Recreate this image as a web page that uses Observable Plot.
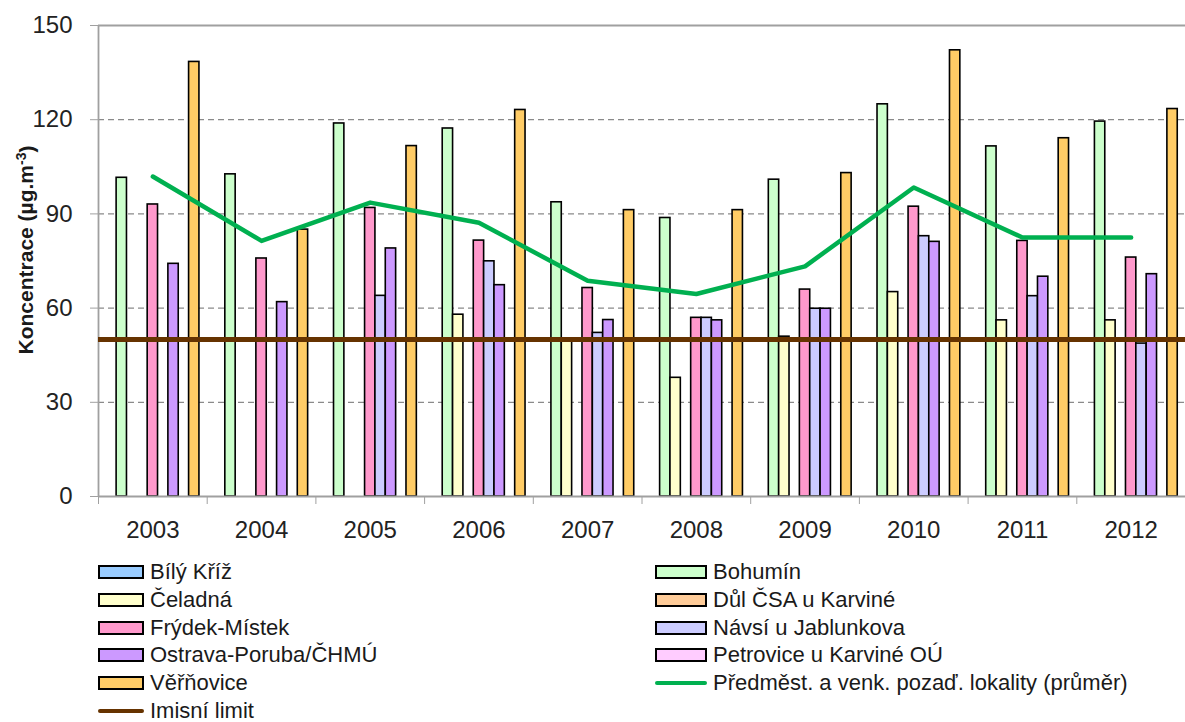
<!DOCTYPE html>
<html>
<head>
<meta charset="utf-8">
<script src="https://cdn.jsdelivr.net/npm/d3@7"></script>
<script src="https://cdn.jsdelivr.net/npm/@observablehq/plot@0.6"></script>
<style>
  body { margin: 0; background: #fff; font-family: "Liberation Sans", Arial, sans-serif; }
  #wrap { position: relative; width: 1185px; height: 722px; overflow: hidden; }
  #legend { position: absolute; left: 0; top: 0; width: 1185px; height: 722px; pointer-events: none; }
  .item { position: absolute; display: flex; align-items: center; height: 24px; line-height: 24px; font-size: 22px; color: #1a1a1a; white-space: nowrap; }
  .sw { height: 14px; border: 2px solid #000; box-sizing: border-box; margin-right: 6px; }
  .ln { height: 4px; margin-right: 6px; border-radius: 2px; }
</style>
</head>
<body>
<div id="wrap"><div id="chart"></div><div id="legend"></div></div>
<script>
// ---- data ----
const years = [2003, 2004, 2005, 2006, 2007, 2008, 2009, 2010, 2011, 2012];
const seriesNames = ["Bílý Kříž", "Bohumín", "Čeladná", "Důl ČSA u Karviné", "Frýdek-Místek",
  "Návsí u Jablunkova", "Ostrava-Poruba/ČHMÚ", "Petrovice u Karviné OÚ", "Věřňovice"];
const bilyKriz   = [null, null, null, null, null, null, null, null, null, null];
const bohumin    = [101.5, 102.6, 118.8, 117.2, 93.7, 88.7, 100.9, 124.9, 111.5, 119.4];
const celadna    = [null, null, null, 57.9, 49.6, 37.8, 50.9, 65.1, 56.1, 56.1];
const dulCSA     = [null, null, null, null, null, null, null, null, null, null];
const frydek     = [93.0, 75.8, 91.9, 81.5, 66.4, 56.9, 65.9, 92.3, 81.4, 76.1];
const navsi      = [null, null, 63.9, 74.9, 52.1, 56.9, 59.8, 82.9, 63.8, 48.7];
const ostrava    = [74.1, 61.9, 79.0, 67.3, 56.2, 56.1, 59.8, 81.1, 70.0, 70.8];
const petrovice  = [null, null, null, null, null, null, null, null, null, null];
const verinovice = [138.4, 85.0, 111.6, 123.1, 91.2, 91.2, 103.0, 142.1, 114.1, 123.4];
const prumer     = [101.9, 81.4, 93.6, 87.2, 68.7, 64.5, 73.3, 98.4, 82.5, 82.5];
const limit = 50;
const lineName = "Předměst. a venk. pozaď. lokality (průměr)";
const limitName = "Imisní limit";
const yTicks = [0, 30, 60, 90, 120, 150];

// ---- styles ----
const seriesColors = ["#99ccff", "#ccffcc", "#ffffcc", "#ffcc99", "#ff99cc", "#ccccff", "#cc99ff", "#ffccff", "#ffcc66"];
const lineColor = "#00b050";
const limitColor = "#663300";
const font = '"Liberation Sans", Arial, sans-serif';

const allSeries = [bilyKriz, bohumin, celadna, dulCSA, frydek, navsi, ostrava, petrovice, verinovice];
const bars = [];
allSeries.forEach((vals, si) => vals.forEach((v, yi) => {
  if (v != null) bars.push({year: years[yi], series: seriesNames[si], si, value: v});
}));

// Excel-like clustered layout: gap width 150% of a bar
const nS = seriesNames.length, gap = 1.5, slot = 1 / (nS + gap);
const x1 = d => d.year - 0.5 + (gap / 2 + d.si) * slot;
const x2 = d => d.year - 0.5 + (gap / 2 + d.si + 1) * slot;
const bounds = years.map(y => y - 0.5).concat([years[years.length - 1] + 0.5]);

const plot = Plot.plot({
  width: 1185, height: 545,
  marginLeft: 98, marginRight: 0, marginTop: 25, marginBottom: 49,
  x: {domain: [years[0] - 0.5, years[years.length - 1] + 0.5], axis: null},
  y: {domain: [0, 150], axis: null},
  color: {domain: seriesNames, range: seriesColors},
  style: {fontFamily: font, fontSize: "24px", color: "#222", background: "#fff"},
  marks: [
    Plot.ruleY([30, 60, 90, 120], {stroke: "#8a8a8a", strokeWidth: 1.3, strokeDasharray: "6,4"}),
    Plot.ruleY([150], {stroke: "#a0a0a0", strokeWidth: 1.8}),
    Plot.rectY(bars, {x1, x2, y: "value", fill: "series", stroke: "#000", strokeWidth: 1.6}),
    Plot.ruleY([0], {stroke: "#a0a0a0", strokeWidth: 1.8}),
    Plot.ruleX([years[0] - 0.5], {stroke: "#a0a0a0", strokeWidth: 1.8}),
    Plot.axisY(yTicks, {tickSize: 8, tickPadding: 18, label: null, stroke: "#a0a0a0", fill: "#222", fontSize: 24}),
    Plot.axisX(years, {tickSize: 0, tickPadding: 24, label: null, tickFormat: d => String(d), fill: "#222", fontSize: 24}),
    Plot.axisX(bounds, {tickSize: 8, label: null, tickFormat: () => "", stroke: "#a0a0a0"}),
    Plot.ruleY([limit], {stroke: limitColor, strokeWidth: 5}),
    Plot.line(years, {x: d => d, y: (d, i) => prumer[i], stroke: lineColor, strokeWidth: 4.5, strokeLinejoin: "round"})
  ]
});
document.getElementById("chart").appendChild(plot);

// y-axis title with superscript
const svg = d3.select(plot);
const t = svg.append("text")
  .attr("transform", "translate(26,250) rotate(-90)")
  .attr("text-anchor", "middle")
  .attr("dy", "0.35em")
  .attr("font-family", font)
  .attr("font-size", 21)
  .attr("font-weight", "bold")
  .attr("fill", "#1a1a1a");
t.append("tspan").text("Koncentrace (µg.m");
t.append("tspan").attr("font-size", 14).attr("dy", "-0.55em").text("-3");
t.append("tspan").attr("dy", "0.4em").text(")");

// legend (HTML)
const legend = d3.select("#legend");
const items = seriesNames.map((n, i) => ({name: n, type: "box", color: seriesColors[i]}))
  .concat([{name: lineName, type: "line", color: lineColor}, {name: limitName, type: "line", color: limitColor}]);
items.forEach((it, i) => {
  const col = i % 2, row = Math.floor(i / 2);
  const div = legend.append("div").attr("class", "item")
    .style("left", (col ? 655 : 98) + "px")
    .style("top", (560 + row * 27.8) + "px");
  div.append("div").attr("class", it.type === "box" ? "sw" : "ln")
    .style("width", (col ? 52 : 46) + "px")
    .style("background", it.color);
  div.append("span").text(it.name);
});
</script>
</body>
</html>
